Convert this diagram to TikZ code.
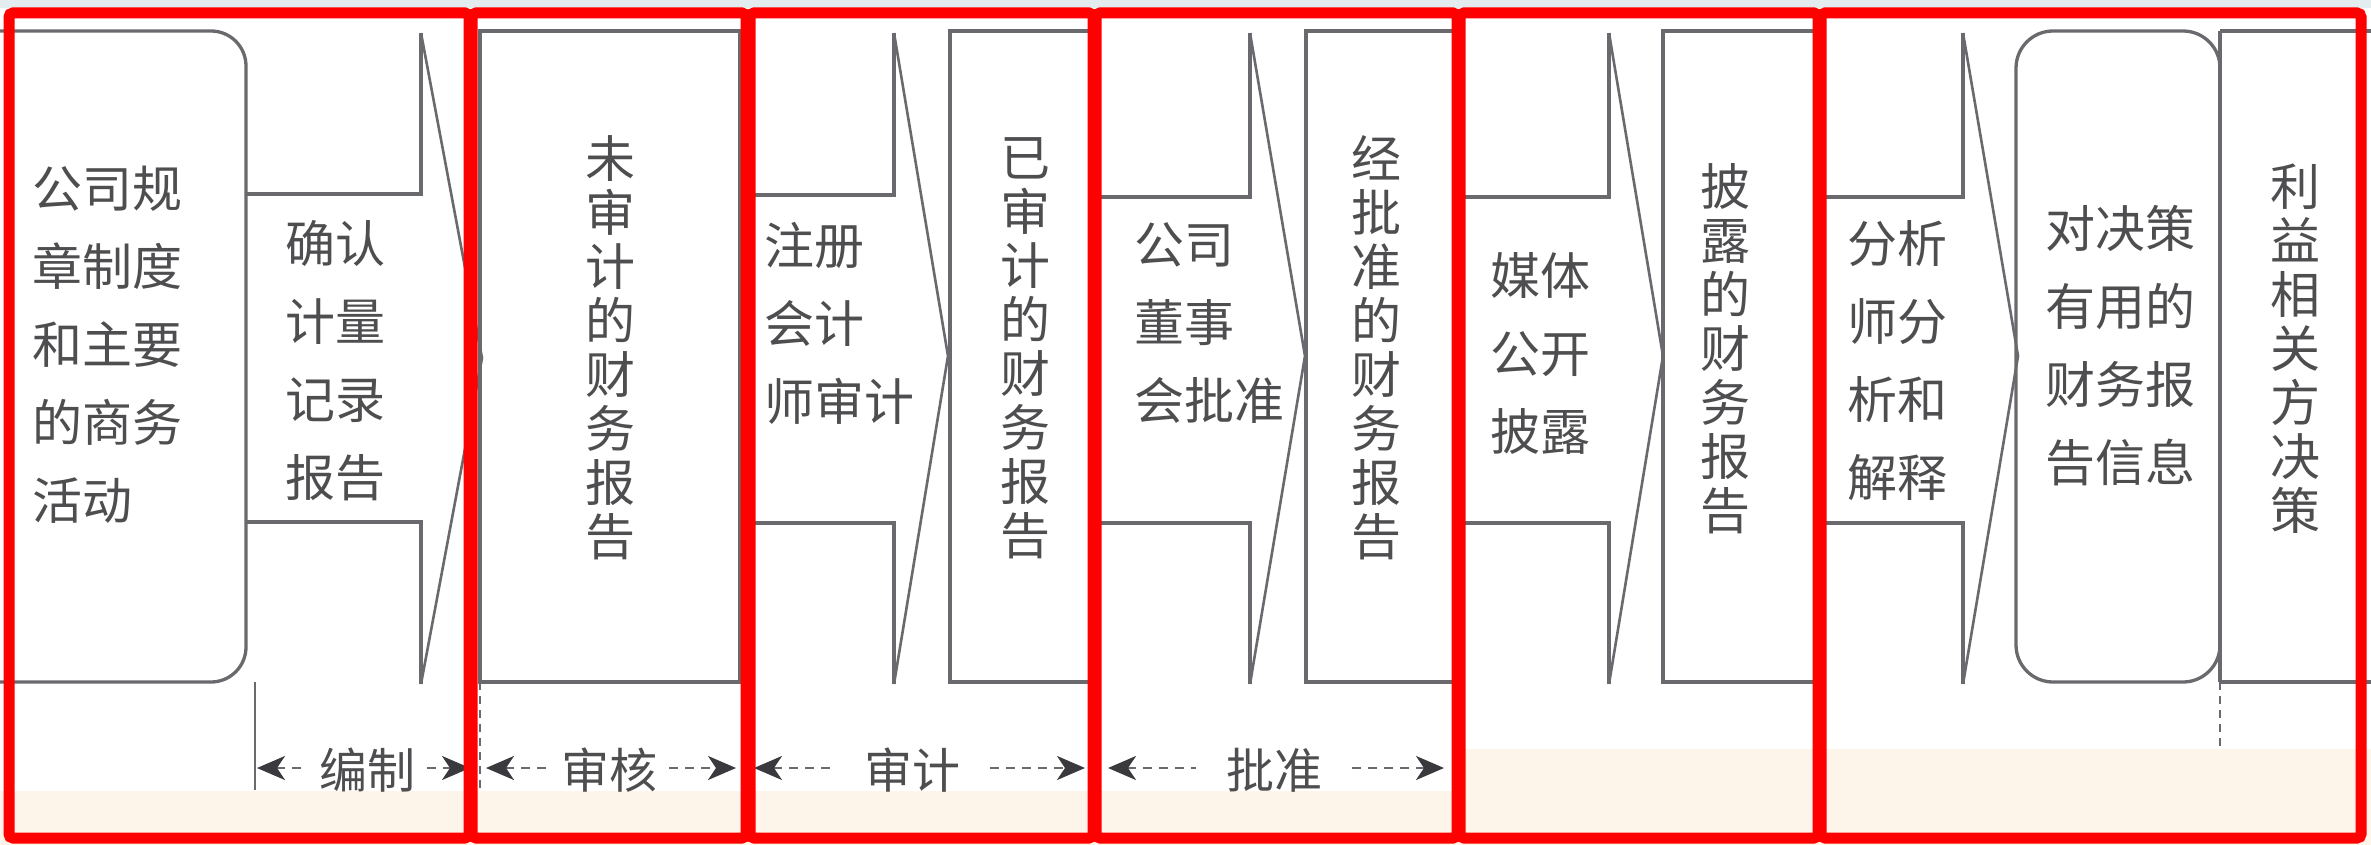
\documentclass[tikz,border=0pt]{standalone}
\usepackage{fontspec}
\newfontfamily\cjk{Noto Sans CJK SC}
\usetikzlibrary{arrows.meta}
\definecolor{framered}{HTML}{FF0000}
\definecolor{linegray}{HTML}{6A6A6E}
\definecolor{txtgray}{HTML}{4E4E50}
\definecolor{cream}{HTML}{FEF5EA}
\definecolor{topstrip}{HTML}{E3ECEE}
\definecolor{tipgray}{HTML}{3A3A3E}
\begin{document}
\begin{tikzpicture}[x=1pt,y=-1pt,
  boxline/.style={draw=linegray, line width=3.3pt, line join=miter},
  headline/.style={draw=linegray, line width=2.6pt, line join=miter},
  hlabel/.style={font=\cjk\fontsize{50}{78}\selectfont, text=txtgray, align=left, anchor=west, inner sep=0pt},
  vlabel/.style={font=\cjk\fontsize{50}{54}\selectfont, text=txtgray, align=center, inner sep=0pt},
  dlabel/.style={font=\cjk\fontsize{48}{54}\selectfont, text=txtgray, inner xsep=12pt, inner ysep=0pt},
  halfleft/.style={draw=linegray, line width=2.6pt, dash pattern=on 9pt off 7pt,
    arrows={Stealth[length=28pt,width=24pt,inset=8pt,color=tipgray]-}},
  halfright/.style={draw=linegray, line width=2.6pt, dash pattern=on 9pt off 7pt,
    arrows={-Stealth[length=28pt,width=24pt,inset=8pt,color=tipgray]}},
  guide/.style={draw=linegray, line width=2.6pt},
  guidedash/.style={draw=linegray, line width=2.6pt, dash pattern=on 8pt off 6pt},
  redbox/.style={draw=framered, line width=11pt, rounded corners=4pt}
]
\useasboundingbox (0,0) rectangle (2371,845);
% background
\fill[white] (0,0) rectangle (2371,845);
\fill[topstrip] (0,0) rectangle (2371,8);
\fill[cream] (0,791) rectangle (2371,845);
\fill[cream] (1465,749) rectangle (2371,791);

% rounded box (left)
\draw[boxline, rounded corners=35pt] (-30,31) -- (246,31) -- (246,682) -- (-30,682);
% arrow 1
\draw[boxline] (246,194) -- (421,194) -- (421,33);
\draw[headline] (421,33) -- (482,358) -- (421,684);
\draw[boxline] (421,684) -- (421,522) -- (246,522);
% box 1
\draw[boxline] (480,31) rectangle (740,682);
% arrow 2
\draw[boxline] (740,195) -- (894,195) -- (894,33);
\draw[headline] (894,33) -- (948,356) -- (894,684);
\draw[boxline] (894,684) -- (894,523) -- (740,523);
% box 2
\draw[boxline] (950,31) rectangle (1094,682);
% arrow 3
\draw[boxline] (1094,197) -- (1250,197) -- (1250,33);
\draw[headline] (1250,33) -- (1305,356) -- (1250,684);
\draw[boxline] (1250,684) -- (1250,523) -- (1094,523);
% box 3
\draw[boxline] (1306,31) rectangle (1458,682);
% arrow 4
\draw[boxline] (1458,197) -- (1609,197) -- (1609,33);
\draw[headline] (1609,33) -- (1663,356) -- (1609,684);
\draw[boxline] (1609,684) -- (1609,523) -- (1458,523);
% box 4
\draw[boxline] (1663,31) rectangle (1820,682);
% arrow 5
\draw[boxline] (1820,197) -- (1963,197) -- (1963,33);
\draw[headline] (1963,33) -- (2018,356) -- (1963,684);
\draw[boxline] (1963,684) -- (1963,523) -- (1820,523);
% box 5 (rounded) and box 6
\draw[boxline, rounded corners=37pt] (2016,31) rectangle (2220,682);
\draw[boxline] (2220,31) -- (2400,31);
\draw[boxline] (2220,682) -- (2400,682);
\draw[boxline] (2220,31) -- (2220,682);

% texts
\node[hlabel] (t0) at (32,345) {公司规\\章制度\\和主要\\的商务\\活动};
\node[hlabel] (a1) at (285,361) {确认\\计量\\记录\\报告};
\node[vlabel] (t1) at (610,348) {未\\审\\计\\的\\财\\务\\报\\告};
\node[hlabel] (a2) at (764,323) {注册\\会计\\师审计};
\node[vlabel] (t2) at (1025,348) {已\\审\\计\\的\\财\\务\\报\\告};
\node[hlabel] (a3) at (1134,323) {公司\\董事\\会批准};
\node[vlabel] (t3) at (1376,348) {经\\批\\准\\的\\财\\务\\报\\告};
\node[hlabel] (a4) at (1490,353) {媒体\\公开\\披露};
\node[vlabel] (t4) at (1725,349) {披\\露\\的\\财\\务\\报\\告};
\node[hlabel] (a5) at (1847,361) {分析\\师分\\析和\\解释};
\node[hlabel] (t5) at (2045,346) {对决策\\有用的\\财务报\\告信息};
\node[vlabel] (t6) at (2295,349) {利\\益\\相\\关\\方\\决\\策};

% guide lines
\coordinate (g0a) at (255,682);
\coordinate (g0b) at (255,790);
\draw[guide] (g0a) -- (g0b);
\coordinate (g1a) at (480,682);
\coordinate (g1b) at (480,790);
\draw[guidedash] (g1a) -- (g1b);
\coordinate (g5a) at (2220,682);
\coordinate (g5b) at (2220,749);
\draw[guidedash] (g5a) -- (g5b);

% dimension lines
\coordinate (d1a) at (257,768);
\coordinate (d1b) at (470,768);
\node[dlabel] (l1) at (367,770) {编制};
\draw[halfleft] (d1a) -- (l1.west |- d1a);
\draw[halfright] (l1.east |- d1a) -- (d1b);

\coordinate (d2a) at (486,768);
\coordinate (d2b) at (736,768);
\node[dlabel] (l2) at (609,770) {审核};
\draw[halfleft] (d2a) -- (l2.west |- d2a);
\draw[halfright] (l2.east |- d2a) -- (d2b);

\coordinate (d3a) at (754,768);
\coordinate (d3b) at (1085,768);
\node[dlabel, inner xsep=30pt] (l3) at (912,770) {审计};
\draw[halfleft] (d3a) -- (l3.west |- d3a);
\draw[halfright] (l3.east |- d3a) -- (d3b);

\coordinate (d4a) at (1108,768);
\coordinate (d4b) at (1444,768);
\node[dlabel, inner xsep=30pt] (l4) at (1274,770) {批准};
\draw[halfleft] (d4a) -- (l4.west |- d4a);
\draw[halfright] (l4.east |- d4a) -- (d4b);

% red frames
\draw[redbox] (9,13) rectangle (469,838);
\draw[redbox] (472,13) rectangle (746,838);
\draw[redbox] (750,13) rectangle (1093,838);
\draw[redbox] (1096,13) rectangle (1457,838);
\draw[redbox] (1460,13) rectangle (1818,838);
\draw[redbox] (1821,13) rectangle (2361,838);
\end{tikzpicture}
\end{document}
